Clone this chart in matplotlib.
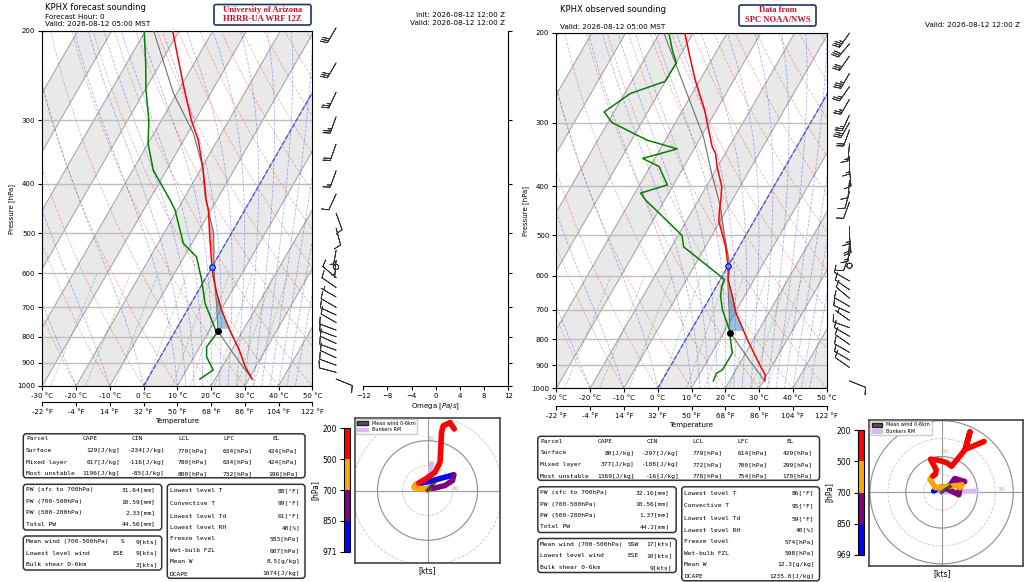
import numpy as np
import matplotlib
matplotlib.use("Agg")
import matplotlib.pyplot as plt
import matplotlib.transforms as mtrans
from matplotlib.patches import FancyBboxPatch, Circle, Patch
from matplotlib.colors import ListedColormap, BoundaryNorm
from matplotlib.cm import ScalarMappable
from matplotlib.ticker import NullLocator, FixedLocator

W, H = 1024, 582
SKEW = 37.6  # degC of skew per unit ln(p)

# ---------------- forecast sounding (HRRR-UA WRF) ----------------
fc_t_p = [969, 916, 856, 776, 709, 657, 609, 582, 500, 450, 430, 376, 328, 300, 254, 200]
fc_t = [31.0, 26.8, 22.7, 16.0, 10.2, 5.9, 2.0, -0.1, -6.5, -10.8, -13.2, -19.1, -25.7, -31.1, -39.8, -51.9]
fc_td_p = [969, 930, 876, 837, 787, 741, 687, 619, 557, 524, 493, 450, 430, 376, 333, 300, 261, 232, 200]
fc_td = [15.5, 17.9, 13.7, 12.0, 12.7, 8.9, 4.1, -0.8, -6.3, -12.5, -15.8, -20.7, -23.9, -33.9, -40.0, -43.7, -49.8, -54.3, -60.3]
fc_par_p = [969, 900, 850, 800, 779, 700, 634, 583, 500, 424, 370, 318, 265, 200]
fc_par = [31.0, 24.6, 19.8, 14.8, 12.6, 8.3, 4.0, 0.6, -5.3, -14.0, -19.9, -28.3, -41.1, -57.5]
fc_lcl = (779, 12.6)
fc_frz = (583, 0.0)
fc_lfc, fc_el = 634, 424

fc_barb_p = [197, 231, 264, 295, 334, 377, 419, 457, 489, 540, 565, 583, 612, 640, 668,
             700, 725, 750, 776, 800, 825, 850, 880, 910, 940, 969]
fc_barb_dir = [210, 210, 205, 200, 200, 200, 205, 160, 165, 190, 185, 0, 310, 305, 300,
               300, 295, 300, 290, 290, 295, 290, 295, 290, 285, 112]
fc_barb_spd = [30, 30, 25, 25, 20, 15, 10, 10, 10, 5, 5, 0, 10, 10, 5,
               10, 10, 10, 10, 10, 10, 10, 10, 10, 10, 9]

# ---------------- observed sounding (SPC) ----------------
ob_t_p = [967, 942, 893, 803, 707, 660, 612, 576, 527, 496, 470, 446, 426, 401, 367, 345, 335, 301,
          284, 267, 247, 226, 200]
ob_t = [30.4, 29.6, 25.7, 18.3, 10.0, 6.5, 2.4, 0.1, -4.0, -7.3, -10.3, -12.1, -13.4, -15.4, -20.1,
        -22.9, -25.0, -30.5, -33.4, -37.0, -41.5, -46.2, -52.5]
ob_td_p = [967, 934, 920, 853, 803, 768, 701, 660, 631, 612, 606, 527, 500, 426, 413, 398, 366, 353,
           338, 325, 300, 286, 263, 249, 229, 216, 200]
ob_td = [15.2, 14.8, 16.0, 16.1, 13.3, 11.3, 5.8, 3.0, 1.6, 1.3, 0.3, -16.4, -18.9, -35.7, -38.3,
         -31.8, -37.4, -43.6, -35.0, -45.4, -58.8, -62.9, -58.3, -50.1, -49.9, -53.3, -57.2]
ob_par_p = [967, 900, 850, 800, 779, 700, 614, 574, 500, 439, 378, 320, 267, 200]
ob_par = [30.4, 24.2, 19.4, 14.4, 12.0, 7.7, 2.4, 0.5, -6.3, -12.4, -20.6, -29.3, -40.6, -58.7]
ob_lcl = (779, 12.0)
ob_frz = (574, 0.0)
ob_lfc, ob_el = 614, 429

ob_barb_p = [200, 210, 222, 240, 255, 270, 290, 300, 310, 330, 350, 370, 390, 410, 430, 480, 500,
             520, 545, 574, 615, 640, 665, 690, 710, 735, 760, 790, 820, 850, 880, 910, 967]
ob_barb_dir = [215, 220, 215, 210, 215, 210, 205, 210, 200, 185, 180, 175, 185, 195, 200, 180, 175,
               185, 200, 0, 300, 305, 310, 300, 295, 305, 290, 300, 305, 300, 300, 305, 112]
ob_barb_spd = [35, 30, 30, 35, 25, 25, 25, 30, 20, 15, 15, 10, 10, 10, 10, 15, 20,
               15, 10, 0, 10, 10, 10, 10, 10, 5, 10, 10, 10, 10, 10, 10, 10]

# ---------------- hodographs (u, v in kts per layer) ----------------
layer_colors = ["blue", "purple", "orange", "red"]
fc_hodo_u = [[-4.5, 0, 5, 10.5], [10.5, 10, 7, 3, 0.5], [0.5, -3, -5.5, -5, -3.5],
             [-3.5, -0.5, 3, 5, 5.3, 5.6, 6.3, 9, 10.7]]
fc_hodo_v = [[2.5, 3.5, 4.8, 6.3], [6.3, 4, 2, 1, 0.8], [0.8, 0.6, 1.2, 2.2, 3.0],
             [3.0, 4.8, 7.3, 11.3, 16.7, 23.3, 26, 27.3, 24.7]]
fc_mean = (2.9, 3.3)
fc_bunkers = (1.6, 10.7)

ob_hodo_u = [[-4.4, -1.8, 3, 7, 11.4, 12.8], [12.8, 7.4, 3.2, 9.6, 10.2],
             [10.2, 11.4, 4, -3.5, -6.5, -4.9],
             [-4.9, -3.5, -3.0, -6.2, -2, 3, 5.5, 7.9, 10.5, 13.2, 15.8, 13.2, 18.5, 23.7]]
ob_hodo_v = [[0.7, 2.6, 3.2, 3.9, 5.6, 6.0], [6.0, 7.7, 1.8, -1.4, 2.5],
             [2.5, 4.2, 3.2, 2.5, 7.4, 9.1],
             [9.1, 10.0, 12.5, 18.5, 18.0, 16.5, 14.5, 17.4, 20.5, 24.0, 33.7, 24.0, 26.2, 28.4]]
ob_mean = (4.7, 3.2)
ob_bunkers = (19.5, 0.7)

fc_cbar_labels = ["971", "850", "700", "500", "200"]
ob_cbar_labels = ["969", "850", "700", "500", "200"]

# ---------------- tables ----------------
parcel_header = ["Parcel", "CAPE", "CIN", "LCL", "LFC", "EL"]
fc_parcel_rows = [["Surface", "129[J/kg]", "-234[J/kg]", "779[hPa]", "634[hPa]", "424[hPa]"],
                  ["Mixed layer", "617[J/kg]", "-116[J/kg]", "780[hPa]", "634[hPa]", "424[hPa]"],
                  ["Most unstable", "1196[J/kg]", "-85[J/kg]", "800[hPa]", "732[hPa]", "196[hPa]"]]
ob_parcel_rows = [["Surface", "80[J/kg]", "-297[J/kg]", "779[hPa]", "614[hPa]", "429[hPa]"],
                  ["Mixed layer", "377[J/kg]", "-108[J/kg]", "772[hPa]", "700[hPa]", "299[hPa]"],
                  ["Most unstable", "1369[J/kg]", "-16[J/kg]", "778[hPa]", "754[hPa]", "170[hPa]"]]
pw_labels = ["PW (sfc to 700hPa)", "PW (700-500hPa)", "PW (500-200hPa)", "Total PW"]
fc_pw = ["31.64[mm]", "10.59[mm]", "2.33[mm]", "44.56[mm]"]
ob_pw = ["32.16[mm]", "10.56[mm]", "1.37[mm]", "44.2[mm]"]
wind_labels = ["Mean wind (700-500hPa)", "Lowest level wind", "Bulk shear 0-6km"]
fc_wind_dir = ["S", "ESE", ""]
fc_wind_spd = ["9[kts]", "9[kts]", "3[kts]"]
ob_wind_dir = ["SSW", "ESE", ""]
ob_wind_spd = ["17[kts]", "10[kts]", "9[kts]"]
misc_labels = ["Lowest level T", "Convective T", "Lowest level Td", "Lowest level RH",
               "Freeze level", "Wet-bulb FZL", "Mean W", "DCAPE"]
fc_misc = ["88[°F]", "99[°F]", "61[°F]", "40[%]", "583[hPa]", "607[hPa]", "8.5[g/kg]", "1074[J/kg]"]
ob_misc = ["86[°F]", "95[°F]", "59[°F]", "40[%]", "574[hPa]", "598[hPa]", "12.3[g/kg]", "1235.0[J/kg]"]


def to_x(t, p):
    return np.asarray(t, float) + SKEW * np.log(1000.0 / np.asarray(p, float))


def interp_p(pg, p, vals):
    p = np.asarray(p, float)
    return np.interp(np.log(pg), np.log(p[::-1]), np.asarray(vals, float)[::-1])


def moist_adiabat(t0, pp):
    def dtdp(T, p):
        tc = T - 273.15
        es = 6.112 * np.exp(17.67 * tc / (tc + 243.5))
        rs = 0.622 * es / (p - es)
        return (287.04 * T + 2.5e6 * rs) / (1005.7 + 2.5e6 ** 2 * rs * 0.622 / (287.04 * T * T)) / p
    out = [t0 + 273.15]
    for i in range(1, len(pp)):
        T = out[-1]
        dp = pp[i] - pp[i - 1]
        k1 = dtdp(T, pp[i - 1])
        k2 = dtdp(T + k1 * dp / 2, pp[i - 1] + dp / 2)
        out.append(T + k2 * dp)
    return np.array(out) - 273.15


fig = plt.figure(figsize=(W / 100, H / 100), dpi=100)
pix = mtrans.Affine2D().scale(1.0 / W, -1.0 / H).translate(0, 1) + fig.transFigure


def add_ax(x0, y0, x1, y1):
    return fig.add_axes([x0 / W, 1 - y1 / H, (x1 - x0) / W, (y1 - y0) / H])


def skewt(ax, f_loc, t_p, t, td_p, td, par_p, par, lcl, frz, lfc, el):
    top = 170
    ax.set_yscale("log")
    pp = np.geomspace(1000, top, 120)
    dtop = SKEW * np.log(1000.0 / top)
    for t0 in range(-120, 41, 20):
        ax.fill([t0, t0 + 10, t0 + 10 + dtop, t0 + dtop], [1000, 1000, top, top],
                color="#e9e9e9", lw=0, zorder=0)
    for t0 in range(-120, 51, 10):
        ax.plot([t0, t0 + dtop], [1000, top], color="#a8a8a8", lw=0.8, zorder=1)
    for th in np.arange(-40, 201, 10):
        tt = (th + 273.15) * (pp / 1000.0) ** 0.2857 - 273.15
        ax.plot(to_x(tt, pp), pp, color="red", ls="--", lw=0.6, alpha=0.3, zorder=1)
    for t0 in np.concatenate((np.arange(-40, 10.1, 10), np.arange(12.5, 45.1, 2.5))):
        ax.plot(to_x(moist_adiabat(t0, pp), pp), pp, color="blue", ls="--", lw=0.6,
                alpha=0.3, zorder=1)
    pm = np.geomspace(1000, 600, 20)
    for w in [0.0004, 0.001, 0.002, 0.004, 0.007, 0.01, 0.016, 0.024, 0.032]:
        e = pm * w / (0.622 + w)
        a = np.log(e / 6.112)
        ax.plot(to_x(243.5 * a / (17.67 - a), pm), pm, color="green", ls="--", lw=0.6,
                alpha=0.3, zorder=1)
    ax.plot([0, dtop], [1000, top], color="#2f2fff", ls="--", lw=0.9, alpha=0.8, zorder=2)

    pg = np.geomspace(770, lfc, 40)
    tp, pr = interp_p(pg, t_p, t), interp_p(pg, par_p, par)
    ax.fill_betweenx(pg, to_x(pr, pg), to_x(tp, pg), where=pr < tp, color="tab:blue",
                     alpha=0.45, lw=0, zorder=2)
    pg = np.geomspace(lfc, el, 60)
    tp, pr = interp_p(pg, t_p, t), interp_p(pg, par_p, par)
    ax.fill_betweenx(pg, to_x(pr, pg), to_x(tp, pg), where=pr > tp, color="tab:red",
                     alpha=0.35, lw=0, zorder=2)

    ax.plot(to_x(par, par_p), par_p, color="#707070", lw=0.8, zorder=3)
    ax.plot(to_x(t, t_p), t_p, color="red", lw=1.1, zorder=4)
    ax.plot(to_x(td, td_p), td_p, color="green", lw=1.1, zorder=4)
    ax.plot(to_x(lcl[1], lcl[0]), lcl[0], "o", color="black", ms=4, zorder=6)
    ax.plot(to_x(frz[1], frz[0]), frz[0], "o", mfc="#33aaff", mec="blue", ms=4, mew=0.8, zorder=6)

    ax.set_ylim(1000, 200)
    ax.set_xlim(-30, 50)
    ax.yaxis.set_major_locator(FixedLocator(range(200, 1001, 100)))
    ax.yaxis.set_minor_locator(NullLocator())
    ax.set_yticklabels([str(v) for v in range(200, 1001, 100)])
    ax.set_xticks(range(-30, 51, 10))
    ax.set_xticklabels([f"{v} °C" for v in range(-30, 51, 10)])
    ax.yaxis.grid(True, color="#bdbdbd", lw=1.0)
    ax.tick_params(labelsize=5, length=3, width=0.8, pad=2)
    ax.set_ylabel("Pressure [hPa]", fontsize=5, labelpad=2)
    sec = ax.secondary_xaxis(f_loc, functions=(lambda x: x * 1.8 + 32, lambda f: (f - 32) / 1.8))
    sec.set_xticks(range(-22, 123, 18))
    sec.set_xticklabels([f"{v} °F" for v in range(-22, 123, 18)])
    sec.tick_params(labelsize=5, length=3, width=0.8, pad=2)
    sec.set_xlabel("Temperature", fontsize=5, labelpad=2)


def barb_column(ax, p, wdir, wspd, xpos):
    ax.set_yscale("log")
    ax.set_ylim(1000, 200)
    ax.set_xlim(0, 1)
    ax.axis("off")
    d = np.radians(wdir)
    s = np.asarray(wspd, float)
    ax.barbs(np.full(len(p), xpos), p, -s * np.sin(d), -s * np.cos(d), length=5.0,
             linewidth=0.6, color="#333333", clip_on=False)


def hodo(ax, cax, lim, rings, labels, us, vs, mean_w, bunk, cbar_labels):
    ax.set_xlim(lim[0], lim[1])
    ax.set_ylim(lim[2], lim[3])
    ax.set_xticks([])
    ax.set_yticks([])
    for sp in ax.spines.values():
        sp.set_color("#444444")
        sp.set_linewidth(1.2)
    for r in rings:
        if r % 20 == 0:
            ax.add_patch(Circle((0, 0), r, fill=False, ec="#8c8c8c", lw=0.8))
        else:
            ax.add_patch(Circle((0, 0), r, fill=False, ec="#c8c8c8", lw=0.6, ls="--"))
    ax.axhline(0, color="#9a9a9a", lw=0.8)
    ax.axvline(0, color="#9a9a9a", lw=0.8)
    for s, (x, y) in labels:
        ax.text(x, y, s, color="#b0b0b0", fontsize=4.5, ha="center", va="center")
    ax.plot([0, bunk[0]], [0, bunk[1]], color="#dcb8f5", lw=3.5, zorder=3)
    for u, v, c in zip(us, vs, layer_colors):
        ax.plot(u, v, color=c, lw=4, solid_capstyle="round", solid_joinstyle="round", zorder=4)
    ax.plot([0, mean_w[0]], [0, mean_w[1]], color="#333333", lw=2.5, alpha=0.85, zorder=5)
    ax.legend(handles=[Patch(fc="#555555", ec="#222222", label="Mean wind 0-6km"),
                       Patch(fc="#dcb8f5", ec="#dcb8f5", label="Bunkers RM")],
              loc="upper left", fontsize=3.5, handlelength=2.2, handleheight=0.8,
              borderpad=0.3, labelspacing=0.3, borderaxespad=0.2, framealpha=1)
    cmap = ListedColormap(layer_colors)
    norm = BoundaryNorm([0, 1, 2, 3, 4], 4)
    cb = fig.colorbar(ScalarMappable(norm=norm, cmap=cmap), cax=cax, ticks=[0, 1, 2, 3, 4])
    cb.set_ticklabels(cbar_labels)
    cax.yaxis.set_ticks_position("left")
    cax.yaxis.set_label_position("left")
    cax.tick_params(labelsize=5.5, length=3, width=0.8, pad=2)
    cb.outline.set_linewidth(0.8)
    cb.set_label("[hPa]", fontsize=5.5, labelpad=2)


def txt(x, y, s, ha="left"):
    fig.text(x, y, s, transform=pix, ha=ha, va="center", family="DejaVu Sans Mono", fontsize=4.5)


def box(x0, y0, x1, y1):
    fig.add_artist(FancyBboxPatch((x0, y0), x1 - x0, y1 - y0, boxstyle="round,pad=0,rounding_size=3",
                                  transform=pix, fc="white", ec="#333333", lw=1.1))


def tables(dx, dy, parcel_rows, pw, wdir, wspd, misc):
    d1 = dy + 0.5
    box(23.3 + dx, 433.3 + d1, 305 + dx, 477.3 + d1)
    hx = [26, 83, 132, 178, 223, 272]
    vx = [120, 165, 208, 253, 298]
    for s, x in zip(parcel_header, hx):
        txt(x + dx, 438.3 + d1, s)
    for r, y in zip(parcel_rows, [450, 461.7, 473.3]):
        txt(26 + dx, y + d1, r[0])
        for s, x in zip(r[1:], vx):
            txt(x + dx, y + d1, s, ha="right")
    box(23.3 + dx, 484.3 + dy, 161.7 + dx, 530 + dy)
    for lab, val, y in zip(pw_labels, pw, [490, 501.7, 512.7, 524.3]):
        txt(26 + dx, y + dy, lab)
        txt(155 + dx, y + dy, val, ha="right")
    box(23.3 + dx, 536 + dy, 161.7 + dx, 570 + dy)
    for lab, dd, val, y in zip(wind_labels, wdir, wspd, [541.7, 553.3, 565]):
        txt(26 + dx, y + dy, lab)
        txt(124 + dx, y + dy, dd, ha="right")
        txt(158 + dx, y + dy, val, ha="right")
    box(167.3 + dx, 484.3 + dy, 305 + dx, 578.3 + dy)
    for lab, val, y in zip(misc_labels, misc, [490.7, 503.3, 516, 527.7, 539, 550.7, 561.7, 574]):
        txt(170 + dx, y + dy, lab)
        txt(300 + dx, y + dy, val, ha="right")


# ---------------- left: forecast ----------------
ax1 = add_ax(42.3, 31, 312.3, 386)
skewt(ax1, -0.045, fc_t_p, fc_t, fc_td_p, fc_td, fc_par_p, fc_par, fc_lcl, fc_frz, fc_lfc, fc_el)
barb_column(add_ax(312.3, 31, 352, 386), fc_barb_p, fc_barb_dir, fc_barb_spd, 0.6)

om = add_ax(363.3, 31, 508.3, 386)
om.set_xlim(-12, 12)
om.set_yscale("log")
om.set_ylim(1000, 200)
om.set_xticks(range(-12, 13, 4))
om.yaxis.set_major_locator(FixedLocator(range(200, 1001, 100)))
om.yaxis.set_minor_locator(NullLocator())
om.yaxis.set_ticklabels([])
om.yaxis.tick_right()
om.spines["top"].set_visible(False)
om.spines["left"].set_visible(False)
om.tick_params(labelsize=5, length=3, width=0.8, pad=2)
om.set_xlabel("Omega [$Pa/s$]", fontsize=5, labelpad=2)

hodo(add_ax(355, 418.3, 500, 562.7), add_ax(344, 428.3, 350, 551.7), (-29, 29, -29, 29),
     [10, 20, 30], [("20", (1.3, 20.7)), ("10", (10.9, 0.9))], fc_hodo_u, fc_hodo_v,
     fc_mean, fc_bunkers, fc_cbar_labels)
fig.text(427.5, 571, "[kts]", transform=pix, ha="center", va="center", fontsize=5.5)
tables(0, 0, fc_parcel_rows, fc_pw, fc_wind_dir, fc_wind_spd, fc_misc)

fig.text(45, 7.5, "KPHX forecast sounding", transform=pix, fontsize=6, va="center")
fig.text(45, 17.3, "Forecast Hour: 0", transform=pix, fontsize=5.2, va="center")
fig.text(45, 24.3, "Valid: 2026-08-12 05:00 MST", transform=pix, fontsize=5.2, va="center")
fig.text(505, 15, "Init: 2026-08-12 12:00 Z", transform=pix, fontsize=5.2, va="center", ha="right")
fig.text(505, 22.7, "Valid: 2026-08-12 12:00 Z", transform=pix, fontsize=5.2, va="center", ha="right")
fig.add_artist(FancyBboxPatch((214, 4.5), 97, 20.5, boxstyle="round,pad=0,rounding_size=2",
                              transform=pix, fc="white", ec="#1f3560", lw=1.2))
fig.text(262.5, 9.8, "University of Arizona", transform=pix, fontsize=6.2, va="center", ha="center",
         family="Liberation Serif", weight="bold", color="#c8102e")
fig.text(262.5, 19.3, "HRRR-UA WRF 12Z", transform=pix, fontsize=6.2, va="center", ha="center",
         family="Liberation Serif", weight="bold", color="#c8102e")

# ---------------- right: observed ----------------
ax2 = add_ax(556.3, 33, 826.7, 388.3)
skewt(ax2, -0.05, ob_t_p, ob_t, ob_td_p, ob_td, ob_par_p, ob_par, ob_lcl, ob_frz, ob_lfc, ob_el)
barb_column(add_ax(826.7, 33, 866, 388.3), ob_barb_p, ob_barb_dir, ob_barb_spd, 0.58)

hodo(add_ax(869.3, 420, 1022.7, 566), add_ax(858.3, 430, 864.3, 555), (-40.4, 45.3, -41.2, 40.4),
     [10, 20, 30, 40], [("20", (1.8, 22.7)), ("30", (33.5, 1.3))], ob_hodo_u, ob_hodo_v,
     ob_mean, ob_bunkers, ob_cbar_labels)
fig.text(942, 574, "[kts]", transform=pix, ha="center", va="center", fontsize=5.5)
tables(514.5, 2.5, ob_parcel_rows, ob_pw, ob_wind_dir, ob_wind_spd, ob_misc)

fig.text(560, 9, "KPHX observed sounding", transform=pix, fontsize=6, va="center")
fig.text(560, 27.3, "Valid: 2026-08-12 05:00 MST", transform=pix, fontsize=5.2, va="center")
fig.text(1020, 24.7, "Valid: 2026-08-12 12:00 Z", transform=pix, fontsize=5.2, va="center", ha="right")
fig.add_artist(FancyBboxPatch((739, 5), 77, 21, boxstyle="round,pad=0,rounding_size=2",
                              transform=pix, fc="white", ec="#1f3560", lw=1.2))
fig.text(777.5, 10.5, "Data from", transform=pix, fontsize=6.2, va="center", ha="center",
         family="Liberation Serif", weight="bold", color="#c8102e")
fig.text(777.5, 20, "SPC NOAA/NWS", transform=pix, fontsize=6.2, va="center", ha="center",
         family="Liberation Serif", weight="bold", color="#c8102e")

fig.savefig("out.png", dpi=100)
